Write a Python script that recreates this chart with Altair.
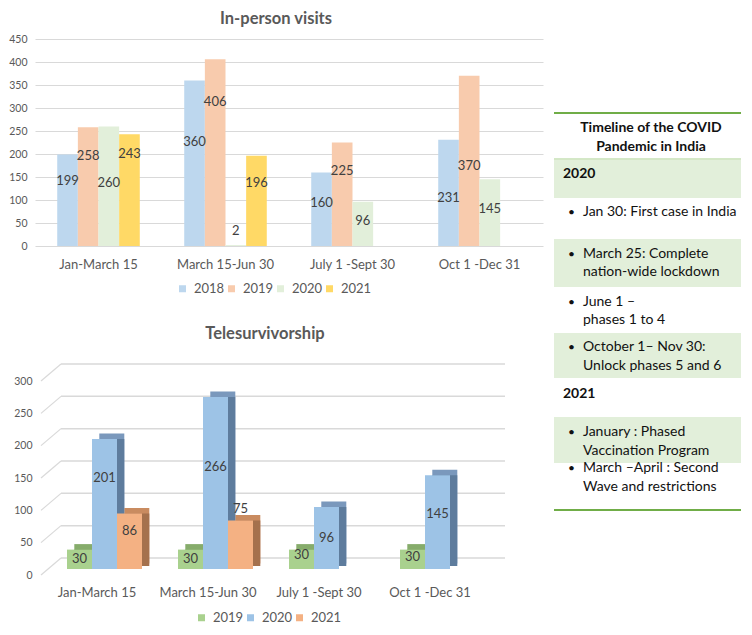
import json
import altair as alt
import pandas as pd

# ---------------- data ----------------
periods = ["Jan-March 15", "March 15-Jun 30", "July 1 -Sept 30", "Oct 1 -Dec 31"]

visit_years = ["2018", "2019", "2020", "2021"]
visits_2018 = [199, 360, 160, 231]
visits_2019 = [258, 406, 225, 370]
visits_2020 = [260, 2, 96, 145]
visits_2021 = [243, 196, None, None]

tele_years = ["2019", "2020", "2021"]
tele_2019 = [30, 30, 30, 30]
tele_2020 = [201, 266, 96, 145]
tele_2021 = [86, 75, None, None]

visit_ticks = [0, 50, 100, 150, 200, 250, 300, 350, 400, 450]
tele_ticks = [0, 50, 100, 150, 200, 250, 300]

timeline_title = ["Timeline of the COVID", "Pandemic in India"]
timeline_rows = [
    ("year", ["2020"]),
    ("item", ["Jan 30: First case in India"]),
    ("item", ["March 25: Complete", "nation-wide lockdown"]),
    ("item", ["June 1 \u2013", "phases 1 to 4"]),
    ("item", ["October 1\u2013 Nov 30:", "Unlock phases 5 and 6"]),
    ("year", ["2021"]),
    ("item", ["January : Phased", "Vaccination Program"]),
    ("item", ["March \u2013April : Second", "Wave and restrictions"]),
]
row_shaded = [True, False, True, False, True, False, True, False]

# ---------------- layout / style ----------------
FONT = "Lato"
GREY = "#595959"
LABEL = "#404040"
GRID = "#D9D9D9"

# where the data labels sit, in axis units (as placed in the original)
visit_label_at = {"2018": [142, 227, 93, 104], "2019": [195, 314, 163, 174],
                  "2020": [136, 32, 55, 81], "2021": [200, 136, None, None]}
tele_label_at = {"2019": [16, 16, 21, 18], "2020": [141, 157, 48, 85],
                 "2021": [58, 93, None, None]}

visit_colors = ["#BDD7EE", "#F8CBAD", "#E2EFDA", "#FFD966"]
tele_front = ["#A9D18E", "#9DC3E6", "#F4B183"]
tele_top = ["#86AC6B", "#7A98BC", "#C98B60"]
tele_side = ["#6E9157", "#5E7C9D", "#A5714D"]

DX, DY = 7.3, -5.5     # depth of the 3-D columns (px)
WALL = -11             # back wall offset (px)

# bottom chart geometry (px): plot width, height, first group centre, group step, face width
TW, TH, T_C0, T_STEP, T_FACE = 470, 194, 69.5, 111.0, 25.0
t_lo = -T_C0 / T_STEP
t_hi = t_lo + TW / T_STEP
t_w = T_FACE / T_STEP

# ---------------- tables ----------------
vis_series = {"2018": visits_2018, "2019": visits_2019, "2020": visits_2020, "2021": visits_2021}
vis_rows = []
for yr in visit_years:
    for i, p in enumerate(periods):
        v = vis_series[yr][i]
        if v is not None:
            vis_rows.append({"period": p, "year": yr, "value": v, "label_at": visit_label_at[yr][i]})
vis_df = pd.DataFrame(vis_rows)

tele_series = {"2019": tele_2019, "2020": tele_2020, "2021": tele_2021}
tele_rows = []
for j, yr in enumerate(tele_years):
    for i, p in enumerate(periods):
        v = tele_series[yr][i]
        if v is not None:
            x0 = i - 1.5 * t_w + j * t_w
            tele_rows.append({"period": p, "year": yr, "value": v, "label_at": tele_label_at[yr][i],
                              "x0": x0, "x1": x0 + t_w, "xc": x0 + t_w / 2})
tele_df = pd.DataFrame(tele_rows)
tick_df = pd.DataFrame({"tick": tele_ticks})

# ---------------- top chart: In-person visits ----------------
vx = alt.X("period:N", sort=periods, title=None,
           scale=alt.Scale(domain=periods, paddingInner=0.35, paddingOuter=0.175),
           axis=alt.Axis(labelAngle=0, domain=False, ticks=False, tickSize=0, labelPadding=12,
                         labelFontSize=13, labelColor=GREY, labelFont=FONT))
vxo = alt.XOffset("year:N", scale=alt.Scale(domain=visit_years, paddingInner=0, paddingOuter=0))
vscale = alt.Scale(domain=[0, 450], nice=False)
vaxis = alt.Axis(values=visit_ticks, domain=False, ticks=False, tickSize=0, labelPadding=8,
                 labelFontSize=10.5, labelColor=GREY, labelFont=FONT, gridColor=GRID, gridWidth=1)

v_bars = alt.Chart(vis_df).mark_bar().encode(
    x=vx, xOffset=vxo,
    y=alt.Y("value:Q", title=None, scale=vscale, axis=vaxis),
    color=alt.Color("year:N", scale=alt.Scale(domain=visit_years, range=visit_colors),
                    legend=alt.Legend(orient="none", legendX=141, legendY=243, direction="horizontal",
                                      title=None, symbolType="square", symbolSize=49,
                                      symbolStrokeWidth=0, labelFontSize=13, labelColor=GREY,
                                      labelFont=FONT, labelOffset=5, columnPadding=-6.5)),
)
v_text = alt.Chart(vis_df).mark_text(fontSize=13, color=LABEL, font=FONT).encode(
    x=vx, xOffset=vxo,
    y=alt.Y("label_at:Q", title=None, scale=vscale, axis=vaxis),
    text="value:Q",
)
top = alt.layer(v_bars, v_text).properties(
    width=508, height=207,
    title=alt.TitleParams("In-person visits", fontSize=16.5, font=FONT, fontWeight="bold",
                          color=GREY, dx=-13, offset=7),
)

# ---------------- bottom chart: Telesurvivorship (3-D columns) ----------------
tscale_x = alt.Scale(domain=[t_lo, t_hi], nice=False, zero=False)
taxis_x = alt.Axis(values=[0, 1, 2, 3], labelExpr=json.dumps(periods) + "[datum.value]",
                   grid=False, domain=False, ticks=False, tickSize=0, labelPadding=17,
                   labelOffset=-8, labelFontSize=13, labelColor=GREY, labelFont=FONT)
tscale = alt.Scale(domain=[0, 300], nice=False)
taxis = alt.Axis(values=tele_ticks, domain=False, ticks=False, tickSize=0, grid=False, labelPadding=3,
                 labelOffset=6, labelFontSize=10.5, labelColor=GREY, labelFont=FONT)

wall = alt.Chart(tick_df).mark_rule(color=GRID, strokeWidth=1.5, yOffset=WALL).encode(
    y=alt.Y("tick:Q", title=None, scale=tscale, axis=taxis),
    x=alt.value(26), x2=alt.value(TW),
)
floor = alt.Chart(tick_df).mark_rule(color=GRID, strokeWidth=1.2, yOffset=6, y2Offset=WALL).encode(
    y=alt.Y("tick:Q", title=None, scale=tscale, axis=taxis),
    y2=alt.Y2("tick:Q"),
    x=alt.value(6), x2=alt.value(26),
)


def t_bars(colors, legend=None, **offsets):
    return alt.Chart(tele_df).mark_bar(**offsets).encode(
        x=alt.X("x0:Q", title=None, scale=tscale_x, axis=taxis_x),
        x2="x1:Q",
        y=alt.Y("value:Q", title=None, scale=tscale, axis=taxis),
        y2=alt.datum(0),
        color=alt.Color("year:N", scale=alt.Scale(domain=tele_years, range=colors), legend=legend),
    )


t_topface = t_bars(tele_top, xOffset=DX, x2Offset=DX, yOffset=DY, y2Offset=DY)
t_side = t_bars(tele_side, xOffset=DX, x2Offset=DX, y2Offset=-3)
t_front = t_bars(tele_front, legend=alt.Legend(orient="none", legendX=160, legendY=236,
                                               direction="horizontal", title=None,
                                               symbolType="square", symbolSize=49,
                                               symbolStrokeWidth=0, labelFontSize=13,
                                               labelColor=GREY, labelFont=FONT, labelOffset=5,
                                               columnPadding=-4))
t_text = alt.Chart(tele_df).mark_text(fontSize=13, color=LABEL, font=FONT).encode(
    x=alt.X("xc:Q", title=None, scale=tscale_x, axis=taxis_x),
    y=alt.Y("label_at:Q", title=None, scale=tscale, axis=taxis),
    text="value:Q",
)
bottom = alt.layer(wall, floor, t_topface, t_side, t_front, t_text).resolve_scale(
    color="independent"
).properties(
    width=TW, height=TH,
    title=alt.TitleParams("Telesurvivorship", fontSize=16.5, font=FONT, fontWeight="bold",
                          color=GREY, dx=-5, offset=21),
)

# ---------------- timeline panel ----------------
TL_X0, TL_X1 = 553, 740          # page x spanned by the panel view
TL_Y0, TL_Y1 = 40, 615           # page y spanned by the panel view
TOP_LINE, HEAD_LINE, BOTTOM_LINE = 114, 160, 511
row_bounds = [161, 199, 240, 288, 334, 379, 418, 464, 511]
title_line_y = [129, 148]
row_line_y = [[175], [213], [255, 273], [303, 321], [348, 367], [395], [433, 452], [469, 488]]
X_YEAR, X_BULLET, X_TEXT, X_CENTER = 562, 567, 582, 650

tlx = alt.Scale(domain=[TL_X0, TL_X1])
tly = alt.Scale(domain=[TL_Y0, TL_Y1], reverse=True)
TLW = TL_X1 - TL_X0

shade_df = pd.DataFrame([{"y0": row_bounds[i], "y1": row_bounds[i + 1]}
                         for i in range(len(timeline_rows)) if row_shaded[i]])
lines_df = pd.DataFrame({"y": [TOP_LINE, BOTTOM_LINE]})
head_df = pd.DataFrame({"y": [HEAD_LINE]})
title_df = pd.DataFrame({"text": timeline_title, "y": title_line_y, "x": [X_CENTER] * 2})
year_recs, bullet_recs, body_recs = [], [], []
for (kind, lines), ys in zip(timeline_rows, row_line_y):
    for j, (ln, yy) in enumerate(zip(lines, ys)):
        if kind == "year":
            year_recs.append({"text": ln, "y": yy, "x": X_YEAR})
        else:
            body_recs.append({"text": ln, "y": yy, "x": X_TEXT})
            if j == 0:
                bullet_recs.append({"text": "\u2022", "y": yy, "x": X_BULLET})
year_df = pd.DataFrame(year_recs)
bullet_df = pd.DataFrame(bullet_recs)
body_df = pd.DataFrame(body_recs)

tl_xenc = alt.X("x:Q", scale=tlx, axis=None)
tl_yenc = alt.Y("y:Q", scale=tly, axis=None)
shade = alt.Chart(shade_df).mark_rect(color="#E2EFDA").encode(
    y=alt.Y("y0:Q", scale=tly, axis=None), y2="y1:Q", x=alt.value(0), x2=alt.value(TLW))
green_lines = alt.Chart(lines_df).mark_rule(color="#70AD47", strokeWidth=2).encode(
    y=tl_yenc, x=alt.value(0), x2=alt.value(TLW))
head_line = alt.Chart(head_df).mark_rule(color="#A9D08E", strokeWidth=1).encode(
    y=tl_yenc, x=alt.value(0), x2=alt.value(TLW))
t_title = alt.Chart(title_df).mark_text(font=FONT, fontSize=14, fontWeight="bold", color="#111111",
                                        align="center", baseline="middle").encode(
    x=tl_xenc, y=tl_yenc, text="text:N")
t_years = alt.Chart(year_df).mark_text(font=FONT, fontSize=14, fontWeight="bold", color="#111111",
                                       align="left", baseline="middle").encode(
    x=tl_xenc, y=tl_yenc, text="text:N")
t_bullets = alt.Chart(bullet_df).mark_text(font=FONT, fontSize=12, color="#111111",
                                           align="left", baseline="middle").encode(
    x=tl_xenc, y=tl_yenc, text="text:N")
t_body = alt.Chart(body_df).mark_text(font=FONT, fontSize=14, color="#111111",
                                      align="left", baseline="middle").encode(
    x=tl_xenc, y=tl_yenc, text="text:N")
timeline = alt.layer(shade, green_lines, head_line, t_title, t_years, t_bullets, t_body).properties(
    width=TLW, height=TL_Y1 - TL_Y0)

left = alt.vconcat(top, bottom, spacing=54)
chart = alt.hconcat(left, timeline, spacing=10).properties(
    padding={"top": 2, "left": 0, "right": 0, "bottom": 0}
).configure(font=FONT).configure_view(stroke="transparent", strokeWidth=0)

chart.save("out.html", embed_options={"renderer": "svg", "actions": False})
